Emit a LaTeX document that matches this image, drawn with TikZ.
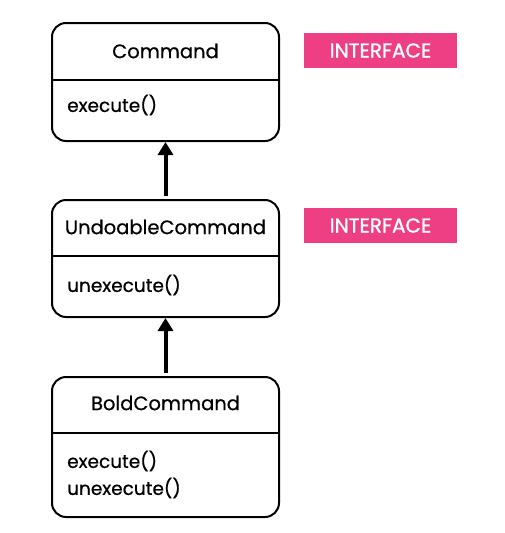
\documentclass[tikz,border=0pt]{standalone}
\usepackage{fontspec}
\setmainfont{Poppins}
\newfontfamily\medfont{Poppins}[FakeBold=0.6]
\newfontfamily\tagfont{Poppins}[FakeBold=1.2]
\usetikzlibrary{arrows.meta}
\definecolor{ifacepink}{RGB}{239,63,132}
\tikzset{
  classbox/.style={draw, line width=2pt, rounded corners=14pt, minimum width=227pt, inner sep=0pt},
  divider/.style={line width=2pt},
  title/.style={font=\medfont\fontsize{19.5}{22}\selectfont},
  method/.style={anchor=west, inner sep=0pt, font=\medfont\fontsize{18.5}{22}\selectfont},
  iface/.style={fill=ifacepink, text=white, minimum width=153pt, minimum height=35pt, inner sep=0pt, font=\tagfont\fontsize{20}{22}\selectfont},
  inherit/.style={line width=4pt, shorten <=3pt, -{Triangle[length=13pt,width=15pt]}}
}
\begin{document}
\begin{tikzpicture}[x=1pt,y=-1pt]
  \useasboundingbox (0,0) rectangle (505,533);
  % class boxes
  \node[classbox, minimum height=118pt] (cmd) at (165.5,82) {};
  \node[classbox, minimum height=117pt] (undo) at (165.5,258.5) {};
  \node[classbox, minimum height=140pt] (bold) at (165.5,447) {};
  \draw[divider] (cmd.west |- 0,80) -- (cmd.east |- 0,80);
  \draw[divider] (undo.west |- 0,256) -- (undo.east |- 0,256);
  \draw[divider] (bold.west |- 0,433) -- (bold.east |- 0,433);
  % names and methods
  \node[title] (cmdname) at (165.5,51) {Command};
  \node[method] (cmdexec) at (67,105) {execute()};
  \node[title] (undoname) at (165.5,227) {UndoableCommand};
  \node[method] (undounexec) at (67,285) {unexecute()};
  \node[title] (boldname) at (165.5,403) {BoldCommand};
  \node[method] (boldexec) at (67,461) {execute()};
  \node[method] (boldunexec) at (67,488) {unexecute()};
  % interface tags
  \node[iface] (tag1) at (380.5,50.5) {INTERFACE};
  \node[iface] (tag2) at (380.5,225.5) {INTERFACE};
  % arrows
  \draw[inherit] (undo.north) -- (cmd.south);
  \draw[inherit] (bold.north) -- (undo.south);
\end{tikzpicture}
\end{document}
